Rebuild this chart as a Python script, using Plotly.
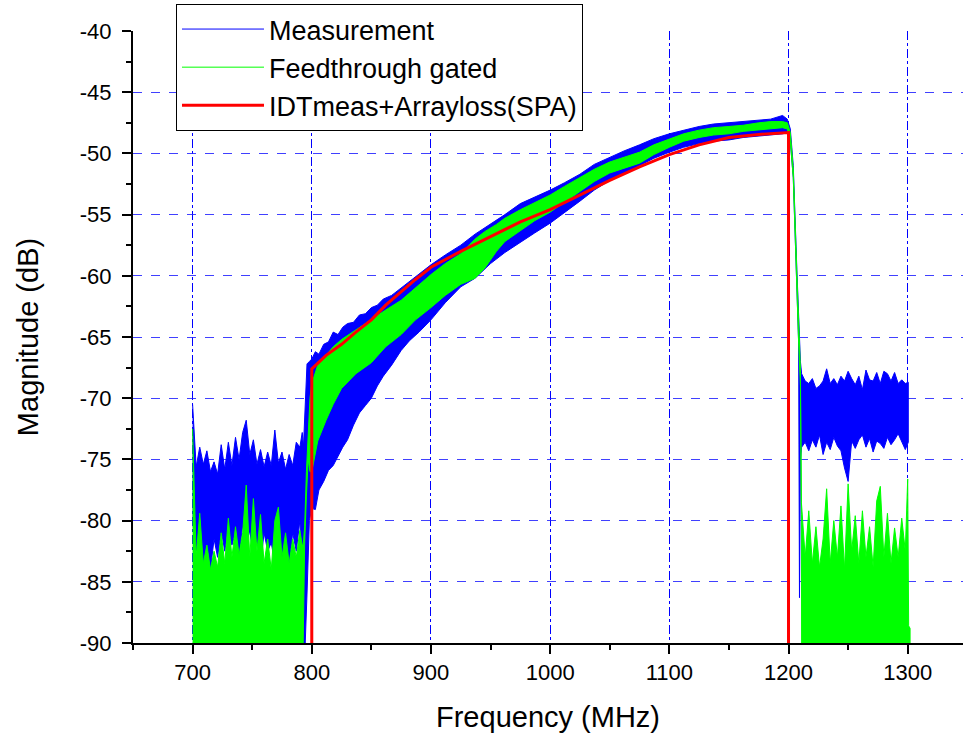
import plotly.graph_objects as go

# ---------------- data ----------------
# Measurement (blue): upper / lower envelope of the noisy trace
meas_freq = [700, 703, 706, 709, 712, 715, 718, 721, 724, 727, 730, 733, 736, 739, 742, 745,
             748, 751, 754, 757, 760, 763, 766, 769, 772, 775, 778, 781, 784, 787, 790, 792,
             793, 794.5, 796, 798,
             800, 803, 806, 810, 814, 818, 822, 826, 830, 835, 840, 845, 850, 855, 860, 867,
             875, 882, 890, 900, 912, 925, 937, 950, 962, 975, 987, 1000, 1012, 1025, 1037,
             1050, 1062, 1075, 1087, 1100, 1112, 1125, 1137, 1150, 1162, 1175, 1185, 1195, 1199,
             1201.5, 1204, 1207, 1208.5, 1209.2, 1210,
             1211, 1214, 1217, 1220, 1223, 1226, 1229, 1232, 1235, 1238, 1241, 1244, 1247, 1250,
             1253, 1256, 1259, 1262, 1265, 1268, 1271, 1274, 1277, 1280, 1283, 1286, 1289, 1292,
             1295, 1298, 1300.5]
meas_upper = [-70.5, -75.6, -74.0, -75.4, -74.3, -76.0, -75.2, -76.2, -73.8, -75.8, -73.6, -75.5,
              -73.2, -75.0, -72.8, -71.8, -74.6, -73.4, -75.4, -74.2, -75.6, -74.4, -75.5, -72.6,
              -75.3, -74.4, -75.8, -74.6, -75.5, -73.6, -74.0, -72.8,
              -74.0, -70.0, -67.2, -67.0,
              -66.8, -66.2, -66.4, -65.6, -65.4, -64.6, -64.8, -64.2, -63.9, -63.8, -63.2, -63.1,
              -62.6, -62.4, -61.9, -61.6, -61.0, -60.5, -59.9, -59.1, -58.3, -57.5, -56.6, -55.8,
              -55.0, -54.1, -53.6, -53.0, -52.4, -51.7, -50.9, -50.3, -49.8, -49.3, -48.8, -48.4,
              -48.1, -47.8, -47.6, -47.5, -47.4, -47.3, -47.2, -46.9, -47.2,
              -48.0, -51.0, -59.5, -63.5, -65.5, -67.0,
              -68.0, -68.6, -68.8, -68.4, -69.2, -69.0, -68.6, -67.6, -68.8, -68.4, -68.9, -68.2,
              -68.6, -67.8, -68.4, -68.9, -68.2, -69.3, -67.7, -68.5, -68.6, -67.9, -68.8, -67.8,
              -68.0, -68.6, -67.9, -68.8, -68.5, -68.8, -68.7]
meas_lower = [-80.0, -82.5, -80.5, -83.5, -82.0, -84.0, -81.5, -83.0, -80.8, -82.5, -80.6, -82.0,
              -81.0, -82.8, -80.4, -82.0, -80.8, -83.0, -81.5, -83.5, -81.0, -82.5, -81.8, -83.5,
              -81.2, -83.0, -81.5, -83.5, -81.0, -82.5, -80.0, -84.0,
              -90.0, -90.0, -86.0, -80.0,
              -79.0, -79.1, -77.5, -76.8, -75.9, -75.5, -74.8, -74.0, -73.4, -72.2, -71.2, -70.6,
              -70.0, -69.0, -68.2, -67.3, -66.1, -65.3, -64.6, -63.6, -62.2, -60.9, -60.2, -59.0,
              -58.1, -57.3, -56.5, -55.7, -54.8, -53.9, -53.0, -52.2, -51.7, -51.0, -50.4, -49.9,
              -49.5, -49.2, -49.0, -48.9, -48.7, -48.6, -48.5, -48.4, -48.3,
              -49.0, -52.0, -61.0, -65.5, -86.3, -75.0,
              -74.0, -73.6, -74.3, -73.4, -74.0, -73.0, -74.6, -73.6, -74.2, -73.2, -73.9, -74.3,
              -75.7, -76.8, -73.5, -74.1, -73.4, -73.0, -74.0, -73.3, -74.4, -73.5, -73.7, -74.1,
              -73.2, -73.8, -73.4, -72.9, -73.5, -74.2, -73.6]

# Feedthrough gated (green): upper / lower envelope
feed_freq = [700, 703, 706, 709, 712, 715, 718, 721, 724, 727, 730, 733, 736, 739, 742, 745,
             748, 751, 754, 757, 760, 763, 766, 769, 772, 775, 778, 781, 784, 787, 790, 792,
             792.8, 794, 795.5, 797, 798.5,
             800, 805, 812, 818, 825, 837, 850, 862, 875, 887, 900, 912, 925, 937, 945, 955,
             962, 975, 987, 1000, 1012, 1025, 1037, 1050, 1062, 1075, 1087, 1100, 1112, 1125,
             1137, 1150, 1162, 1175, 1185, 1195, 1199,
             1201.5, 1204, 1207, 1208.5, 1210, 1210.8,
             1211, 1214, 1217, 1220, 1223, 1226, 1229, 1232, 1235, 1238, 1241, 1244, 1247, 1250,
             1253, 1256, 1259, 1262, 1265, 1268, 1271, 1274, 1277, 1280, 1283, 1286, 1289, 1292,
             1295, 1298, 1300, 1300.8, 1302]
feed_upper = [-72.5, -83.0, -79.4, -83.5, -82.0, -84.0, -82.5, -83.8, -81.0, -83.5, -79.8, -83.0,
              -80.5, -82.8, -81.0, -77.1, -83.0, -78.2, -82.5, -79.5, -83.5, -81.5, -84.0, -80.0,
              -78.9, -83.0, -81.0, -83.5, -81.5, -83.0, -80.8, -82.0,
              -82.0, -80.5, -76.0, -72.6, -70.0,
              -68.8, -67.3, -66.5, -65.8, -65.2, -64.4, -63.6, -62.8, -62.0, -61.0, -59.9, -59.0,
              -58.2, -57.0, -56.4, -55.8, -55.3, -54.6, -54.0, -53.4, -52.7, -52.0, -51.3, -50.7,
              -50.3, -49.9, -49.3, -48.8, -48.4, -48.1, -47.9, -47.8, -47.7, -47.5, -47.4, -47.4,
              -47.5,
              -48.3, -51.3, -59.8, -64.0, -67.6, -78.5,
              -78.8, -83.0, -79.2, -83.5, -80.5, -83.8, -81.5, -77.4, -83.5, -80.0, -83.0, -78.8,
              -84.0, -77.0, -82.5, -79.6, -83.5, -79.2, -83.0, -80.5, -83.8, -78.4, -77.2, -83.0,
              -79.4, -83.5, -80.6, -83.0, -79.8, -82.5, -76.6, -88.6, -88.8]
feed_lower = [-90.0, -90.0, -90.0, -90.0, -90.0, -90.0, -90.0, -90.0, -90.0, -90.0, -90.0, -90.0,
              -90.0, -90.0, -90.0, -90.0, -90.0, -90.0, -90.0, -90.0, -90.0, -90.0, -90.0, -90.0,
              -90.0, -90.0, -90.0, -90.0, -90.0, -90.0, -90.0, -90.0,
              -90.0, -82.0, -78.0, -75.0, -76.0,
              -76.0, -73.5, -71.8, -70.5, -69.2, -68.0, -67.1, -65.8, -64.8, -63.6, -62.6, -61.6,
              -60.7, -60.2, -59.4, -58.0, -57.2, -56.3, -55.5, -54.8, -54.0, -53.1, -52.3, -51.6,
              -51.2, -50.8, -50.1, -49.5, -49.0, -48.7, -48.5, -48.4, -48.2, -48.1, -48.0, -47.9,
              -48.0,
              -49.0, -52.0, -61.0, -65.5, -69.0, -79.5,
              -90.0, -90.0, -90.0, -90.0, -90.0, -90.0, -90.0, -90.0, -90.0, -90.0, -90.0, -90.0,
              -90.0, -90.0, -90.0, -90.0, -90.0, -90.0, -90.0, -90.0, -90.0, -90.0, -90.0, -90.0,
              -90.0, -90.0, -90.0, -90.0, -90.0, -90.0, -90.0, -90.0, -90.0]

# IDTmeas+Arrayloss(SPA) (red)
spa_freq = [800, 800, 812, 825, 837, 850, 862, 875, 887, 900, 925, 950, 975, 1000, 1025, 1050,
            1075, 1100, 1125, 1150, 1175, 1190, 1200, 1200]
spa_mag = [-90.0, -67.6, -66.5, -65.6, -64.6, -63.6, -62.4, -61.3, -60.3, -59.3, -58.0, -56.8,
           -55.6, -54.6, -53.4, -52.2, -51.1, -50.1, -49.3, -48.7, -48.45, -48.35, -48.3, -90.0]

x_ticks = [700, 800, 900, 1000, 1100, 1200, 1300]
y_ticks = [-90, -85, -80, -75, -70, -65, -60, -55, -50, -45, -40]

BLUE = "#0000FF"
GREEN = "#00FF00"
RED = "#FF0000"
FONT = "Arial, Liberation Sans, sans-serif"


def polygon(f, up, lo):
    return list(f) + list(f[::-1]), list(up) + list(lo[::-1])


fig = go.Figure()

mx, my = polygon(meas_freq, meas_upper, meas_lower)
fig.add_trace(go.Scatter(x=mx, y=my, mode="lines", fill="toself", fillcolor=BLUE,
                         line=dict(color=BLUE, width=1), showlegend=False, hoverinfo="skip"))
gx, gy = polygon(feed_freq, feed_upper, feed_lower)
fig.add_trace(go.Scatter(x=gx, y=gy, mode="lines", fill="toself", fillcolor=GREEN,
                         line=dict(color=GREEN, width=1), showlegend=False, hoverinfo="skip"))
fig.add_trace(go.Scatter(x=spa_freq, y=spa_mag, mode="lines", name="IDTmeas+Arrayloss(SPA)",
                         line=dict(color=RED, width=3), legendrank=3))
# legend entries for the two noisy traces
fig.add_trace(go.Scatter(x=[None], y=[None], mode="lines", name="Measurement",
                         line=dict(color=BLUE, width=1), legendrank=1))
fig.add_trace(go.Scatter(x=[None], y=[None], mode="lines", name="Feedthrough gated",
                         line=dict(color=GREEN, width=1), legendrank=2))

axis_common = dict(
    showline=True, linecolor="black", linewidth=2,
    ticks="outside", tickcolor="black", tickwidth=2, ticklen=9,
    zeroline=False, mirror=False,
    tickfont=dict(family=FONT, size=22, color="black"),
)

fig.update_xaxes(
    range=[650, 1346.4], tickvals=x_ticks, ticktext=[str(v) for v in x_ticks],
    showgrid=True, gridcolor=BLUE, gridwidth=1, griddash="dashdot",
    minor=dict(dtick=50, tick0=650, ticks="outside", ticklen=5, tickwidth=2,
               tickcolor="black", showgrid=False),
    title=dict(text="Frequency (MHz)", font=dict(family=FONT, size=29, color="black"),
               standoff=22),
    **axis_common,
)
fig.update_yaxes(
    range=[-90, -40], tickvals=y_ticks, ticktext=[str(v) for v in y_ticks],
    showgrid=True, gridcolor="rgba(30,30,255,0.85)", gridwidth=1.2, griddash="dash",
    minor=dict(dtick=2.5, tick0=-90, ticks="outside", ticklen=5, tickwidth=2,
               tickcolor="black", showgrid=False),
    ticklabelstandoff=6,
    title=dict(text="Magnitude (dB)", font=dict(family=FONT, size=29, color="black"),
               standoff=33),
    **axis_common,
)

fig.update_layout(
    width=963, height=740,
    margin=dict(l=133, r=0, t=31, b=97, autoexpand=False),
    paper_bgcolor="white", plot_bgcolor="white",
    font=dict(family=FONT, color="black"),
    legend=dict(x=0.0518, y=1.0441, xanchor="left", yanchor="top",
                bgcolor="white", bordercolor="black", borderwidth=1,
                font=dict(family=FONT, size=27, color="black"),
                itemwidth=82, tracegroupgap=0),
    showlegend=True,
)

fig.write_html("out.html")
